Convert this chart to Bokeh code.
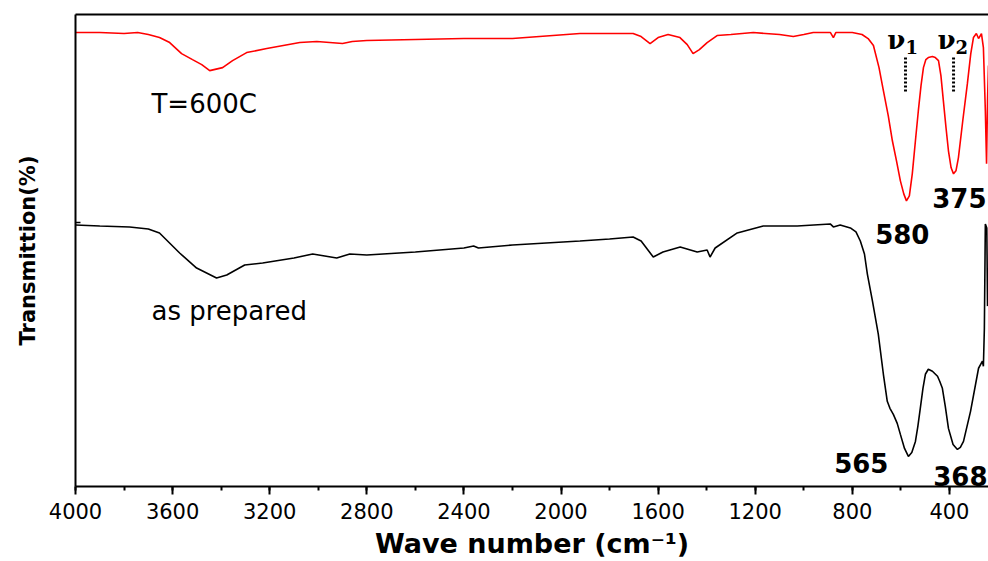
from bokeh.plotting import figure
from bokeh.models import Range1d, LinearAxis, SingleIntervalTicker, FixedTicker, CustomJSTickFormatter
from bokeh.core.properties import value
from bokeh.embed import file_html
from bokeh.resources import INLINE

# Wavenumbers (cm^-1) and transmission (arbitrary units)
red_wn = [4000, 3900, 3800, 3744, 3700, 3654, 3612, 3563, 3518, 3480, 3447, 3394, 3353, 3295,
          3212, 3076, 3006, 2953, 2900, 2860, 2800, 2600, 2400, 2200, 1922, 1800, 1703, 1670,
          1633, 1600, 1559, 1510, 1480, 1456, 1430, 1398, 1357, 1300, 1208, 1100, 1043, 1000,
          961, 890, 878, 868, 800, 760, 735, 713, 690, 672, 652, 635, 618, 602, 588, 577, 565,
          553, 540, 528, 517, 507, 497, 487, 470, 458, 445, 435, 425, 414, 404, 393, 383, 373,
          363, 345, 326, 312, 301, 289, 280, 268, 260, 252, 247, 243, 239]
red_t = [453, 453, 452, 453, 451, 448, 443, 432, 426, 421, 415, 418, 425, 433,
         437, 443, 444, 443, 442, 444, 445, 446, 447, 447, 452, 452, 452, 449,
         442, 448, 451, 448, 441, 432, 436, 443, 450, 451, 453, 451, 449, 451,
         453, 453, 448, 453, 453, 451, 447, 440, 418, 395, 370, 345, 325, 305, 292, 285, 290,
         312, 345, 375, 400, 418, 426, 428, 429, 428, 425, 410, 385, 358, 335, 318, 312, 315,
         328, 365, 402, 432, 448, 452, 447, 452, 438, 375, 322, 385, 420]

black_wn = [4000, 3900, 3777, 3700, 3654, 3571, 3501, 3419, 3377, 3303, 3229, 3100, 3023, 2924,
            2870, 2800, 2600, 2400, 2360, 2340, 2200, 1922, 1800, 1703, 1670, 1620, 1580, 1509,
            1439, 1398, 1386, 1365, 1274, 1167, 1027, 891, 878, 850, 808, 785, 767, 750, 738, 717,
            693, 672, 656, 645, 631, 615, 602, 585, 569, 555, 540, 530, 520, 509, 499, 487, 470,
            449, 440, 429, 417, 404, 385, 367, 355, 342, 313, 280, 264, 260, 256, 252, 246, 243]
black_t = [261, 260, 259, 257, 253, 233, 218, 208, 211, 221, 223, 228, 232, 228,
           232, 231, 234, 238, 240, 238, 241, 245, 247, 249, 245, 229, 234, 239,
           234, 236, 229, 238, 253, 260, 260, 262, 259, 261, 258, 254, 245, 232, 212, 185,
           152, 112, 85, 78, 72, 63, 52, 38, 30, 34, 45, 60, 78, 98, 112, 117, 115,
           110, 105, 98, 80, 58, 42, 37, 39, 45, 75, 118, 125, 120, 158, 262, 258, 180]

series_labels = ["T=600C", "as prepared"]
peak_labels = ["580", "375", "565", "368"]
x_ticks_interval = 400

p = figure(width=988, height=561, output_backend="svg", toolbar_location=None,
           x_range=Range1d(4000, 239), y_range=Range1d(0, 471),
           min_border_left=75, min_border_right=0, min_border_top=14, min_border_bottom=0)
p.outline_line_color = None
p.xgrid.visible = False
p.ygrid.visible = False
p.background_fill_color = "white"
p.border_fill_color = "white"

# x axis
xa = p.xaxis[0]
xa.ticker = SingleIntervalTicker(interval=x_ticks_interval, num_minor_ticks=2)
xa.axis_line_width = 2
xa.major_tick_line_width = 2
xa.minor_tick_line_width = 2
xa.major_tick_out = 8
xa.major_tick_in = 0
xa.minor_tick_out = 4
xa.minor_tick_in = 0
xa.major_label_text_font = "DejaVu Sans"
xa.major_label_text_font_size = "21px"
xa.major_label_text_color = "black"
xa.major_label_standoff = 8
xa.axis_label = "Wave number (cm⁻¹)"
xa.axis_label_text_font = "DejaVu Sans"
xa.axis_label_text_font_style = "bold"
xa.axis_label_text_font_size = "27px"
xa.axis_label_text_color = "black"
xa.axis_label_standoff = 6

# y axis
ya = p.yaxis[0]
ya.ticker = FixedTicker(ticks=[263])
ya.formatter = CustomJSTickFormatter(code="return ''")
ya.axis_line_width = 2
ya.major_tick_line_width = 1.5
ya.major_tick_in = 5
ya.major_tick_out = 0
ya.minor_tick_line_color = None
ya.axis_label = "Transmittion(%)"
ya.axis_label_text_font = "DejaVu Sans"
ya.axis_label_text_font_style = "bold"
ya.axis_label_text_font_size = "21px"
ya.axis_label_text_color = "black"
ya.axis_label_standoff = 36

# top border line
top = LinearAxis(ticker=FixedTicker(ticks=[]), axis_line_width=2,
                 major_tick_line_color=None, minor_tick_line_color=None)
p.add_layout(top, "above")

p.line(red_wn, red_t, line_color="#ff0000", line_width=1.6)
p.line(black_wn, black_t, line_color="black", line_width=1.6)

p.text(x=[3687], y=[382], text=[series_labels[0]], text_font=value("DejaVu Sans"),
       text_font_size="26px", text_color="black", text_align="left", text_baseline="alphabetic")
p.text(x=[3687], y=[175], text=[series_labels[1]], text_font=value("DejaVu Sans"),
       text_font_size="26px", text_color="black", text_align="left", text_baseline="alphabetic")

p.text(x=[594, 359, 763, 355], y=[252, 288, 23, 10], text=peak_labels,
       text_font=value("DejaVu Sans"), text_font_style="bold", text_font_size="26px",
       text_color="black", text_align="center", text_baseline="alphabetic")

# nu labels
p.text(x=[656, 449], y=[446, 446], text=["ν", "ν"], text_font=value("DejaVu Serif"),
       text_font_style="bold", text_font_size="26px", text_color="black",
       text_align="left", text_baseline="alphabetic")
p.text(x=[581, 375], y=[439, 439], text=["1", "2"], text_font=value("DejaVu Serif"),
       text_font_style="bold", text_font_size="18px", text_color="black",
       text_align="left", text_baseline="alphabetic")

p.segment(x0=[581, 383], y0=[428, 428], x1=[581, 383], y1=[393, 393],
          line_color="black", line_width=3, line_dash="2 2")

open("out.html", "w").write(file_html(p, INLINE))
